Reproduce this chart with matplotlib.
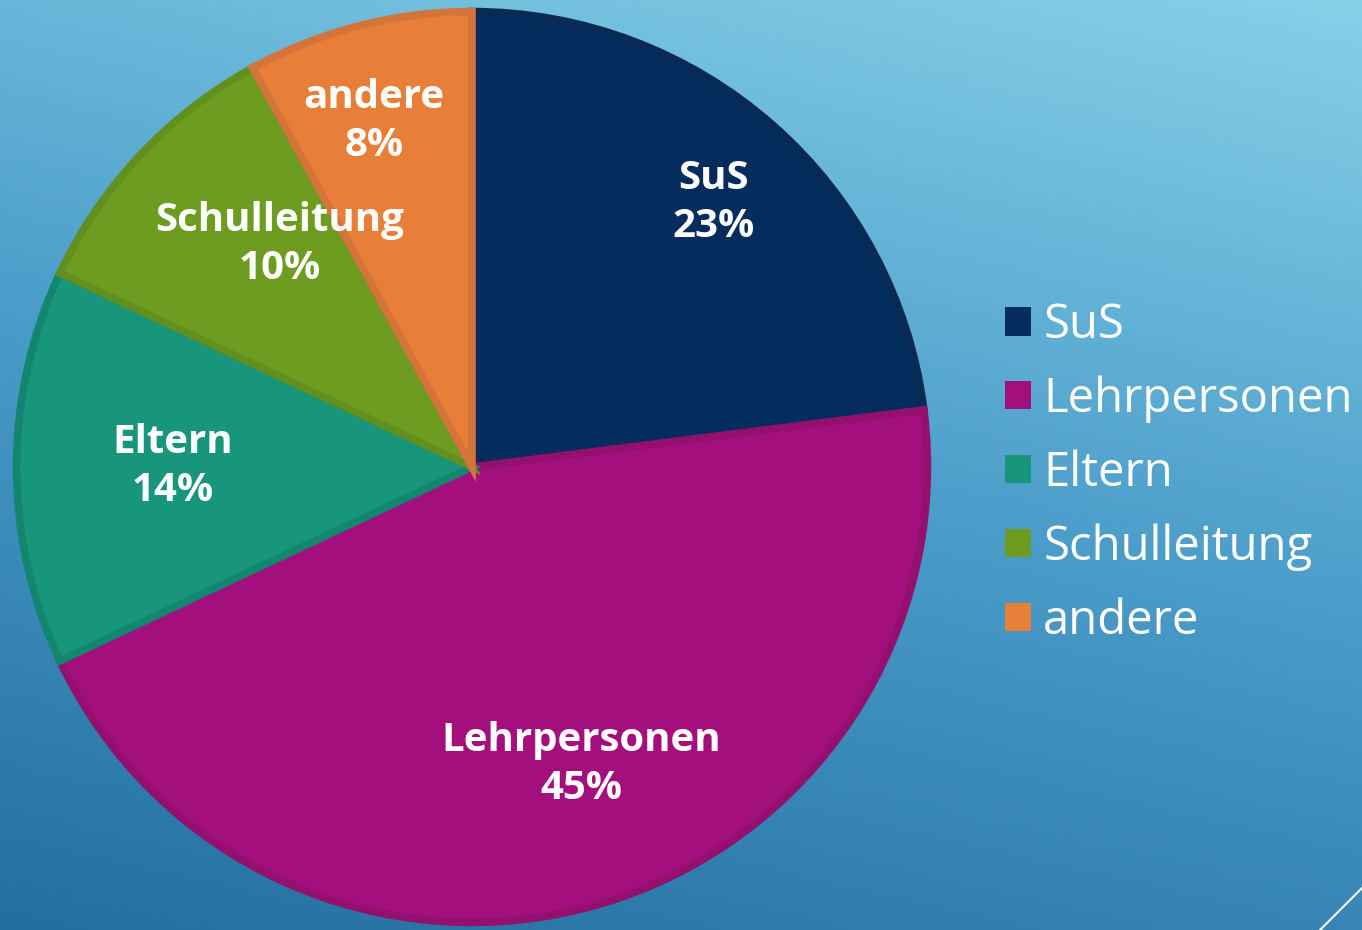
import numpy as np
import matplotlib
matplotlib.use("Agg")
import matplotlib.pyplot as plt
from matplotlib.patches import Patch
from matplotlib.colors import LinearSegmentedColormap

categories = ["SuS", "Lehrpersonen", "Eltern", "Schulleitung", "andere"]
values = [23, 45, 14, 10, 8]
fill_colors = ["#042C5C", "#A30F7D", "#17967B", "#6D9C20", "#E77F38"]
edge_colors = ["#082A55", "#93106F", "#138670", "#62901E", "#D4743A"]
# label placement (radius fraction, angle offset in degrees) – layout only
label_r = [0.78, 0.69, 0.65, 0.64, 0.78]
label_dang = [-1, 4, 0, -6, 1.5]

W, H = 1362, 930
fig = plt.figure(figsize=(W / 100, H / 100), dpi=100)

# background gradient
bg = fig.add_axes([0, 0, 1, 1])
bg.set_axis_off()
yy, xx = np.mgrid[0:1:200j, 0:1:300j]
t = 0.75 * yy + 0.25 * xx  # 0 bottom-left dark -> 1 top-right light
cmap = LinearSegmentedColormap.from_list("bg", ["#236FA0", "#4A9CC9", "#86D0E8"])
bg.imshow(t, cmap=cmap, extent=[0, 1, 0, 1], origin="lower", aspect="auto")
bg.set_xlim(0, 1)
bg.set_ylim(0, 1)
bg.plot([1320 / W, 1.0], [0, 42 / H], color="white", lw=1.5)

# pie
cx, cy, R = 472, 463, 460
ax = fig.add_axes([(cx - R) / W, (cy - R) / H, 2 * R / W, 2 * R / H])
ax.set_axis_off()
wedges, _ = ax.pie(values, colors=fill_colors, startangle=90, counterclock=False,
                   radius=0.99, wedgeprops=dict(linewidth=5.5))
ax.set_xlim(-1, 1)
ax.set_ylim(-1, 1)
ax.set_aspect("equal")
for w, ec in zip(wedges, edge_colors):
    w.set_edgecolor(ec)
    w.set_joinstyle("miter")

total = sum(values)
for w, cat, v, r, da in zip(wedges, categories, values, label_r, label_dang):
    ang = np.deg2rad((w.theta1 + w.theta2) / 2 + da)
    ax.text(r * np.cos(ang), r * np.sin(ang), f"{cat}\n{round(100 * v / total)}%",
            ha="center", va="center", color="white", fontsize=29, fontweight="bold",
            family=["Open Sans", "DejaVu Sans"], linespacing=1.3)

handles = [Patch(facecolor=c, edgecolor="none") for c in fill_colors]
leg = fig.legend(handles, categories, loc="center left", bbox_to_anchor=(986 / W, 1 - 473 / H),
                 frameon=False, handlelength=0.56, handleheight=0.56,
                 handletextpad=0.25, labelspacing=0.56, borderaxespad=0,
                 prop=dict(family=["Open Sans", "DejaVu Sans"], weight="normal", size=34))
for txt in leg.get_texts():
    txt.set_color("white")

fig.savefig("out.png", dpi=100)
